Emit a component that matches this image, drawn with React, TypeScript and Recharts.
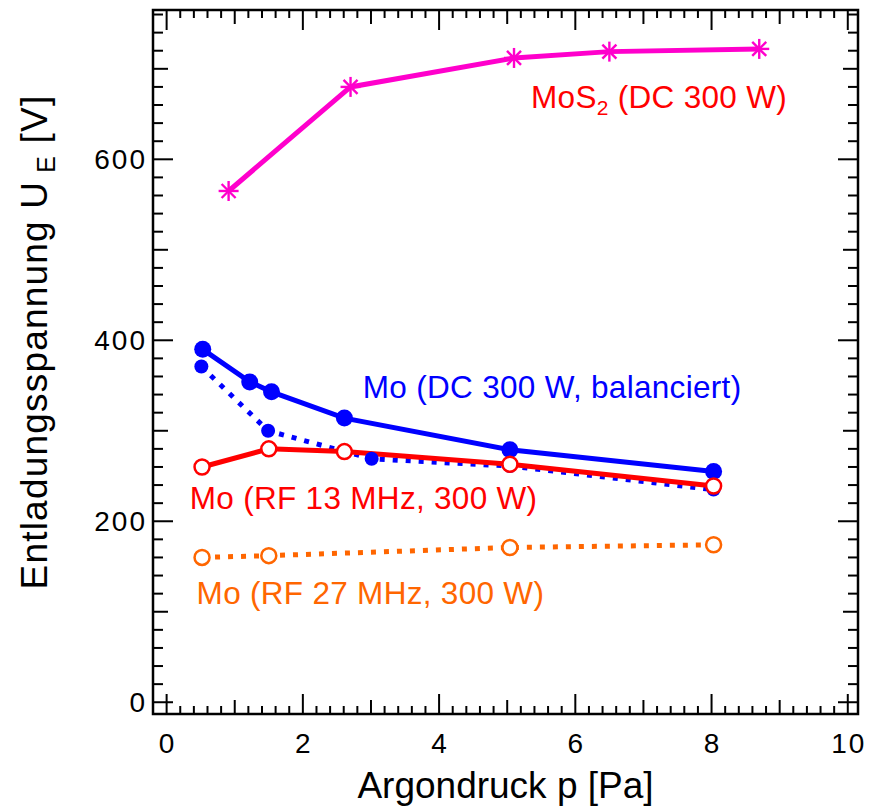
import {
  Line,
  LineChart,
  ReferenceArea,
  ReferenceDot,
  XAxis,
  YAxis,
} from "recharts";

// Argondruck p [Pa] / Entladungsspannung U_E [V]
const mos2P = [0.91, 2.7, 5.1, 6.5, 8.7];
const mos2U = [565, 680, 712, 719, 722];

const moDcP = [0.53, 1.22, 1.54, 2.61, 5.04, 8.03];
const moDcU = [390, 354, 343, 314, 279, 255];

const moDcDotP = [0.51, 1.49, 3.01, 5.04, 8.03];
const moDcDotU = [371, 300, 269, 261, 235];

const rf13P = [0.52, 1.5, 2.61, 5.04, 8.03];
const rf13U = [260, 280, 277, 263, 239];

const rf27P = [0.52, 1.5, 5.04, 8.03];
const rf27U = [160, 162, 171, 174];

const X_MAJOR = [0, 2, 4, 6, 8, 10];
const Y_MAJOR = [0, 200, 400, 600];

const X_DOMAIN: [number, number] = [-0.2, 10.15];
const Y_DOMAIN: [number, number] = [-13, 765];

const WIDTH = 877;
const HEIGHT = 808;
const MARGIN = { top: 10, right: 19, bottom: 0, left: 0 };
const PLOT_TOP = MARGIN.top;
const PLOT_RIGHT = WIDTH - MARGIN.right;

const MAGENTA = "#ff00cc";
const BLUE = "#0000ff";
const RED = "#ff0000";
const ORANGE = "#ff6600";
const FONT = "'Liberation Sans', Arial, Helvetica, sans-serif";

const toRows = (ps: number[], us: number[]) =>
  ps.map((p, i) => ({ p, u: us[i] }));

const mos2 = toRows(mos2P, mos2U);
const moDc = toRows(moDcP, moDcU);
const moDcDot = toRows(moDcDotP, moDcDotU);
const rf13 = toRows(rf13P, rf13U);
const rf27 = toRows(rf27P, rf27U);

// minor ticks every 0.2 Pa and every 20 V
const xTicks = Array.from({ length: 51 }, (_, i) => Math.round(i * 2) / 10);
const yTicks = Array.from({ length: 39 }, (_, i) => i * 20);

const xTickLen = (v: number) => {
  const t = Math.round(v * 10);
  if (t % 20 === 0) return 20;
  if (t % 10 === 0) return 14;
  return 8;
};
const yTickLen = (v: number) => {
  if (v % 200 === 0) return 20;
  if (v % 100 === 0) return 15;
  return 10;
};

const renderXTick = (props: any) => {
  const { x, y, payload } = props;
  const v = payload.value as number;
  const len = xTickLen(v);
  const major = X_MAJOR.includes(Math.round(v * 10) / 10);
  return (
    <g>
      <line x1={x} y1={y} x2={x} y2={y - len} stroke="#000" strokeWidth={2} />
      <line
        x1={x}
        y1={PLOT_TOP}
        x2={x}
        y2={PLOT_TOP + len}
        stroke="#000"
        strokeWidth={2}
      />
      {major && (
        <text
          x={x + 1}
          y={y + 39}
          textAnchor="middle"
          fontSize={28}
          letterSpacing={2}
          fontFamily={FONT}
          fill="#000"
        >
          {v}
        </text>
      )}
    </g>
  );
};

const renderYTick = (props: any) => {
  const { x, y, payload } = props;
  const v = payload.value as number;
  const len = yTickLen(v);
  return (
    <g>
      <line x1={x} y1={y} x2={x + len} y2={y} stroke="#000" strokeWidth={2} />
      <line
        x1={PLOT_RIGHT}
        y1={y}
        x2={PLOT_RIGHT - len}
        y2={y}
        stroke="#000"
        strokeWidth={2}
      />
      {Y_MAJOR.includes(v) && (
        <text
          x={x - 6}
          y={y + 10}
          textAnchor="end"
          fontSize={28}
          letterSpacing={2}
          fontFamily={FONT}
          fill="#000"
        >
          {v}
        </text>
      )}
    </g>
  );
};

const filledDot = (r: number) => (props: any) => (
  <circle key={`d${props.index}`} cx={props.cx} cy={props.cy} r={r} fill={BLUE} />
);

const openDot = (color: string) => (props: any) => (
  <circle
    key={`o${props.index}`}
    cx={props.cx}
    cy={props.cy}
    r={7.5}
    fill="#fff"
    stroke={color}
    strokeWidth={2.5}
  />
);

const asterisk = (props: any) => {
  const { cx, cy } = props;
  return (
    <g key={`a${props.index}`} stroke={MAGENTA} strokeWidth={2.4}>
      <line x1={cx} y1={cy - 10} x2={cx} y2={cy + 10} />
      <line x1={cx - 10} y1={cy} x2={cx + 10} y2={cy} />
      <line x1={cx - 7} y1={cy - 7} x2={cx + 7} y2={cy + 7} />
      <line x1={cx - 7} y1={cy + 7} x2={cx + 7} y2={cy - 7} />
    </g>
  );
};

const seriesLabel =
  (color: string, parts: { text: string; sub?: boolean }[]) =>
  (props: any) => {
    const { x, y } = props.viewBox;
    return (
      <text
        x={x}
        y={y}
        fill={color}
        fontSize={31.5}
        letterSpacing={0.3}
        fontFamily={FONT}
      >
        {parts.map((part, i) => (
          <tspan
            key={i}
            fontSize={part.sub ? 21 : 31.5}
            dy={part.sub ? 7 : i > 0 && parts[i - 1].sub ? -7 : 0}
          >
            {part.text}
          </tspan>
        ))}
      </text>
    );
  };

const xTitle = (props: any) => {
  const { x, y, width } = props.viewBox;
  return (
    <text
      x={x + width / 2}
      y={y + 84}
      textAnchor="middle"
      fontSize={37}
      fontFamily={FONT}
      fill="#000"
    >
      Argondruck p [Pa]
    </text>
  );
};

const yTitle = (props: any) => {
  const { x, y, height } = props.viewBox;
  const cx = x + 47;
  const cy = y + height / 2 - 20;
  return (
    <text
      x={cx}
      y={cy}
      transform={`rotate(-90 ${cx} ${cy})`}
      textAnchor="middle"
      fontSize={37}
      letterSpacing={1.2}
      fontFamily={FONT}
      fill="#000"
    >
      Entladungsspannung U
      <tspan fontSize={25} dx={8} dy={8}>
        E
      </tspan>
      <tspan dy={-8}> [V]</tspan>
    </text>
  );
};

export default function App() {
  return (
    <div style={{ position: "absolute", left: 0, top: 0, background: "#fff" }}>
      <LineChart width={WIDTH} height={HEIGHT} margin={MARGIN}>
        <XAxis
          type="number"
          dataKey="p"
          domain={X_DOMAIN}
          allowDataOverflow
          ticks={xTicks}
          interval={0}
          height={94}
          tickSize={0}
          tickMargin={0}
          axisLine={false}
          tickLine={false}
          tick={renderXTick}
          label={{ content: xTitle }}
        />
        <YAxis
          type="number"
          domain={Y_DOMAIN}
          allowDataOverflow
          ticks={yTicks}
          interval={0}
          width={153}
          tickSize={0}
          tickMargin={0}
          axisLine={false}
          tickLine={false}
          tick={renderYTick}
          label={{ content: yTitle }}
        />
        <ReferenceArea
          x1={X_DOMAIN[0]}
          x2={X_DOMAIN[1]}
          y1={Y_DOMAIN[0]}
          y2={Y_DOMAIN[1]}
          fill="none"
          fillOpacity={0}
          stroke="#000"
          strokeWidth={2.5}
        />
        <Line
          data={moDc}
          dataKey="u"
          stroke={BLUE}
          strokeWidth={5}
          dot={filledDot(8.5)}
          activeDot={false}
          isAnimationActive={false}
        />
        <Line
          data={moDcDot}
          dataKey="u"
          stroke={BLUE}
          strokeWidth={5}
          strokeDasharray="5 8"
          dot={filledDot(7)}
          activeDot={false}
          isAnimationActive={false}
        />
        <Line
          data={rf13}
          dataKey="u"
          stroke={RED}
          strokeWidth={5}
          dot={openDot(RED)}
          activeDot={false}
          isAnimationActive={false}
        />
        <Line
          data={rf27}
          dataKey="u"
          stroke={ORANGE}
          strokeWidth={5}
          strokeDasharray="5 8"
          dot={openDot(ORANGE)}
          activeDot={false}
          isAnimationActive={false}
        />
        <Line
          data={mos2}
          dataKey="u"
          stroke={MAGENTA}
          strokeWidth={5}
          dot={asterisk}
          activeDot={false}
          isAnimationActive={false}
        />
        <ReferenceDot
          x={5.35}
          y={657}
          r={0}
          fill="none"
          stroke="none"
          label={{
            content: seriesLabel(RED, [
              { text: "MoS" },
              { text: "2", sub: true },
              { text: " (DC 300 W)" },
            ]),
          }}
        />
        <ReferenceDot
          x={2.88}
          y={336}
          r={0}
          fill="none"
          stroke="none"
          label={{
            content: seriesLabel(BLUE, [{ text: "Mo (DC 300 W, balanciert)" }]),
          }}
        />
        <ReferenceDot
          x={0.34}
          y={213}
          r={0}
          fill="none"
          stroke="none"
          label={{
            content: seriesLabel(RED, [{ text: "Mo (RF 13 MHz, 300 W)" }]),
          }}
        />
        <ReferenceDot
          x={0.44}
          y={109}
          r={0}
          fill="none"
          stroke="none"
          label={{
            content: seriesLabel(ORANGE, [{ text: "Mo (RF 27 MHz, 300 W)" }]),
          }}
        />
      </LineChart>
    </div>
  );
}
